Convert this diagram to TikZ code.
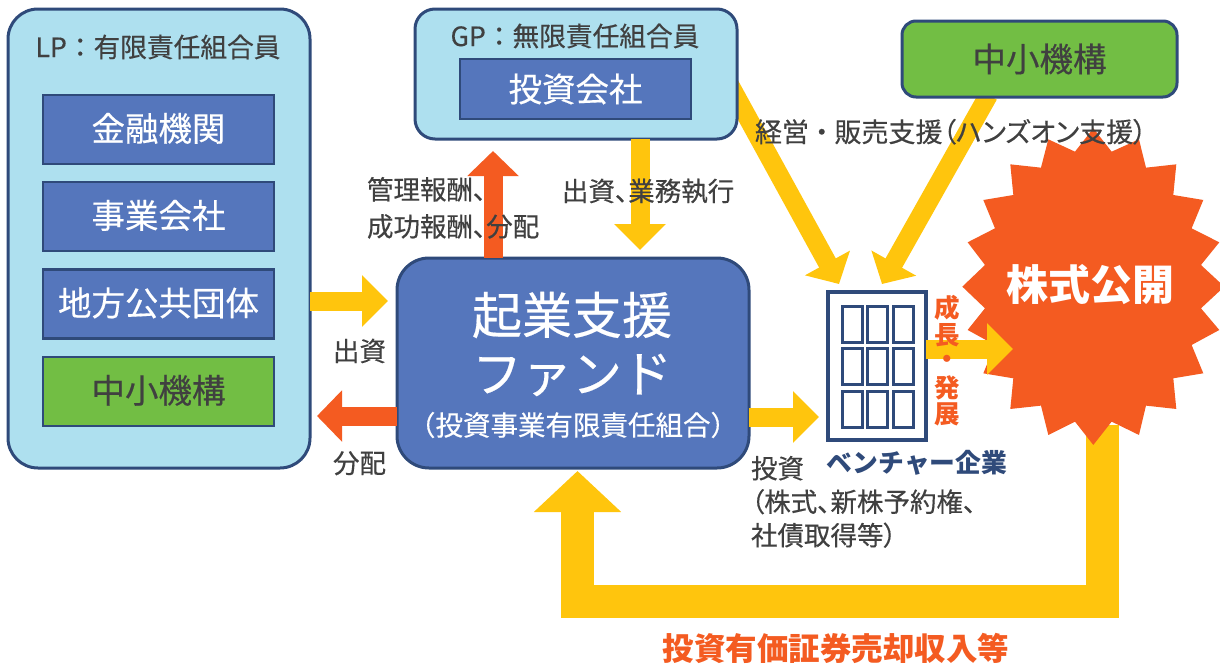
\documentclass[tikz,border=0pt]{standalone}
\usepackage{fontspec}
\setmainfont{Noto Sans CJK JP}[FakeBold=0.35,BoldFeatures={FakeBold=0}]
\newfontfamily\pf{Noto Sans CJK JP}[RawFeature=+palt,FakeBold=0.35]
\usetikzlibrary{arrows.meta,calc}
\definecolor{navy}{HTML}{2F4A7A}
\definecolor{sky}{HTML}{AEE0EF}
\definecolor{blu}{HTML}{5576BC}
\definecolor{grn}{HTML}{72BE44}
\definecolor{ylw}{HTML}{FFC50D}
\definecolor{org}{HTML}{F45B21}
\definecolor{txt}{HTML}{404040}
\pgfdeclarelayer{bg}
\pgfsetlayers{bg,main}
\newcommand{\fsz}[1]{\fontsize{#1pt}{#1pt}\selectfont}
\newcommand{\up}[1]{\raisebox{5pt}{#1}}
\tikzset{
  panel/.style={draw=navy,line width=3pt,fill=sky,rounded corners=#1,outer sep=0pt,inner sep=0pt},
  tile/.style={draw=navy,line width=2.5pt,fill=blu,text=white,outer sep=0pt,inner sep=0pt,minimum width=231pt,minimum height=69pt,font=\fsz{33.5}},
  greentile/.style={tile,fill=grn,text=txt},
  lbl/.style={text=txt,inner sep=0pt,outer sep=0pt,font=\pf\fsz{26.5},anchor=base west},
  yfat/.style={draw=ylw,line width=19pt,-{Triangle[length=26pt,width=50pt]}},
  ofat/.style={draw=org,line width=19pt,-{Triangle[length=25pt,width=50pt]}},
  win/.style={draw=navy,line width=3pt,minimum width=20pt,minimum height=36pt,inner sep=0pt,outer sep=0pt},
  growth/.style={text=org,inner sep=0pt,font=\fsz{25.5}\bfseries},
}
\begin{document}
\begin{tikzpicture}[x=1pt,y=-1pt]
\useasboundingbox (0,0) rectangle (1220,664);
% panels
\node[panel=30pt,minimum width=302pt,minimum height=459pt] (lp) at (159,238.5) {};
\node[panel=20pt,minimum width=322pt,minimum height=130pt] (gp) at (576,74) {};
\node[panel=14pt,fill=grn,text=txt,minimum width=275pt,minimum height=76pt,font=\fsz{33.5}] (smrj) at (1039.5,59) {中小機構};
\node[panel=32pt,fill=blu,minimum width=352pt,minimum height=210pt] (fund) at (573,363) {};
\node[inner sep=0pt,text=txt,font=\fsz{26.7}] (lpt) at (158,47) {LP：有限責任組合員};
\node[inner sep=0pt,text=txt,font=\fsz{26.7}] (gpt) at (575,36) {GP：無限責任組合員};
\node[tile] (t1) at (158.5,129.5) {\up{金融機関}};
\node[tile] (t2) at (158.5,216.5) {\up{事業会社}};
\node[tile] (t3) at (158.5,304) {\up{地方公共団体}};
\node[greentile] (t4) at (158.5,391.5) {\up{中小機構}};
\node[tile,minimum height=60pt] (t5) at (575.5,89) {\raisebox{2pt}{投資会社}};
\node[inner sep=0pt,text=white,font=\fsz{50}] (f1) at (572,315) {起業支援};
\node[inner sep=0pt,text=white,font=\fsz{50}] (f2) at (572,375) {ファンド};
\node[inner sep=0pt,text=white,font=\fsz{27.5}] (f3) at (573,425) {（投資事業有限責任組合）};
% building
\node[draw=navy,line width=4pt,fill=white,minimum width=98pt,minimum height=148pt,inner sep=0pt,outer sep=0pt] (vc) at (877,366) {};
\foreach \cx/\ci in {852/a,877/b,903/c}
  \foreach \cy/\cj in {324/a,366/b,409/c}
    \node[win] (w\ci\cj) at (\cx,\cy) {};
\node[inner sep=0pt,text=navy,font=\fsz{25.8}\bfseries] (vt) at (917,463) {ベンチャー企業};
% star text and coordinates
\node[inner sep=0pt,text=white,font=\fsz{42}\bfseries] (ipo) at (1090,285) {株式公開};
\coordinate (starBottom) at (1102.5,425);
\coordinate (retCorner) at (577.5,601);
\coordinate (starLeft) at (1013,349);
\begin{pgfonlayer}{bg}
\fill[white] (0,0) rectangle (1220,664);
\draw[yfat,-{Triangle[length=24pt,width=50pt]}] (727,80) -- ($(vc.north west)+(11,-8)$);
\draw[yfat,-{Triangle[length=24pt,width=50pt]}] ($(smrj.south)+(-51,-2)$) -- ($(vc.north)+(5,-8)$);
\draw[draw=ylw,line width=33pt,line join=miter,-{Triangle[length=41pt,width=85pt]},shorten >=3pt] (starBottom) |- (retCorner) -- (retCorner |- fund.south);
\begin{scope}[shift={(800,100)},x=0.3333pt,y=-0.3333pt]
\clip (0,-300) rectangle (1260,1200);
\fill[org] (880,85) -- (935,155) -- (1017,118) -- (1038,203) -- (1129,193) -- (1120,285) -- (1210,300) -- (1175,385) -- (1258,427) -- (1203,495) -- (1273,560) -- (1203,625) -- (1258,690) -- (1175,735) -- (1210,820) -- (1120,835) -- (1129,927) -- (1038,917) -- (1017,1005) -- (935,965) -- (880,1035) -- (825,965) -- (745,1005) -- (723,917) -- (631,927) -- (640,835) -- (550,820) -- (585,735) -- (503,690) -- (555,625) -- (487,560) -- (555,495) -- (503,427) -- (585,385) -- (550,300) -- (640,285) -- (631,193) -- (723,203) -- (745,118) -- (825,155) -- cycle;
\end{scope}
\end{pgfonlayer}
% arrows
\draw[yfat,shorten >=9pt] (lp.east |- 0,301) -- (fund.west |- 0,301);
\draw[ofat] (fund.west |- 0,416) -- (317,416);
\draw[yfat,shorten >=9pt] (fund.east |- 0,417) -- (vc.west |- 0,417);
\draw[ofat,shorten >=12pt] (fund.north -| 493,0) -- (gp.south -| 493,0);
\draw[yfat,shorten >=8pt] (gp.south -| 640,0) -- (fund.north -| 640,0);
\draw[yfat] (vc.east |- 0,349) -- (starLeft);
% labels
\node[lbl,font=\pf\fsz{27}] (l1) at (755,142) {経営\kern6pt・\kern6pt販売支援（ハンズオン支援）};
\node[lbl,align=left,anchor=north west,font=\pf\fontsize{26.5pt}{37pt}\selectfont] (l2) at (367,177) {管理報酬、\\成功報酬、分配};
\node[lbl] (l3) at (562,201) {出資、業務執行};
\node[lbl] (l4) at (333,361) {出資};
\node[lbl] (l5) at (333,473) {分配};
\node[lbl,align=left,anchor=north west,font=\pf\fontsize{26.5pt}{33.5pt}\selectfont] (l6) at (751,456) {投資\\（株式、新株予約権、\\社債取得等）};
\node[growth] (g1) at (947,308) {成};
\node[growth] (g2) at (947,335) {長};
\node[growth] (g3) at (947,362) {・};
\node[growth] (g4) at (947,388) {発};
\node[growth] (g5) at (947,414) {展};
\node[inner sep=0pt,text=org,font=\fsz{31.5}\bfseries] (ret) at (836,648) {投資有価証券売却収入等};
\end{tikzpicture}
\end{document}
